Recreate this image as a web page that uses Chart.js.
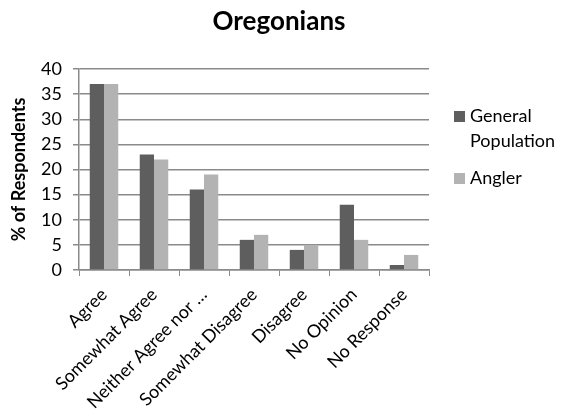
<!DOCTYPE html>
<html>
<head>
<meta charset="utf-8">
<script src="https://cdn.jsdelivr.net/npm/chart.js@4/dist/chart.umd.min.js"></script>
<style>
  html, body { margin: 0; padding: 0; background: #fff; }
  #wrap { position: relative; width: 565px; height: 418px; }
</style>
</head>
<body>
<div id="wrap"><canvas id="c"></canvas></div>
<script>
// ── Data ──────────────────────────────────────────────────────────────────────
const categories = ['Agree', 'Somewhat Agree', 'Neither Agree nor …', 'Somewhat Disagree', 'Disagree', 'No Opinion', 'No Response'];
const generalPop = [37, 23, 16, 6, 4, 13, 1];
const angler     = [37, 22, 19, 7, 5, 6, 3];
const yTicks     = [0, 5, 10, 15, 20, 25, 30, 35, 40];
const titleText  = 'Oregonians';

const FONT = 'Lato, "Open Sans", sans-serif';
const DARK = '#5e5e5e';
const LIGHT = '#b3b3b3';
const GRID = '#8a8a8a';

// ── Title over the whole canvas + legend at the right (wrapped label) ─────────
const sideDecor = {
    id: 'sideDecor',
    afterDraw(chart) {
        const ctx = chart.ctx;
        ctx.save();
        ctx.fillStyle = '#000';
        ctx.textAlign = 'center';
        ctx.textBaseline = 'alphabetic';
        ctx.font = 'bold 26px ' + FONT;
        ctx.fillText(titleText, 279, 30);

        const items = [
            { lines: ['General', 'Population'], color: DARK },
            { lines: ['Angler'], color: LIGHT },
        ];
        ctx.textAlign = 'left';
        ctx.textBaseline = 'middle';
        ctx.font = '18px ' + FONT;
        let y = 116;
        items.forEach(it => {
            ctx.fillStyle = it.color;
            ctx.fillRect(454, y - 5, 11, 11);
            ctx.fillStyle = '#000';
            it.lines.forEach((ln, i) => ctx.fillText(ln, 470, y + i * 25));
            y += it.lines.length * 25 + 12;
        });
        ctx.restore();
    },
};

new Chart(document.getElementById('c'), {
    type: 'bar',
    data: {
        labels: categories,
        datasets: [
            { label: 'General Population', data: generalPop, backgroundColor: DARK, borderWidth: 0 },
            { label: 'Angler',             data: angler,     backgroundColor: LIGHT, borderWidth: 0 },
        ],
    },
    options: {
        responsive: true, maintainAspectRatio: false, animation: false,
        datasets: { bar: { categoryPercentage: 0.57, barPercentage: 1 } },
        layout: { padding: { left: 6, right: 136, top: 69, bottom: 0 } },
        plugins: {
            legend: { display: false },
            tooltip: { enabled: false },
            title: { display: false },
        },
        scales: {
            x: {
                grid: { offset: true, drawOnChartArea: false, color: GRID, tickLength: 6 },
                border: { color: GRID, width: 1.5 },
                ticks: { color: '#000', font: { family: FONT, size: 18 }, maxRotation: 45, minRotation: 45, autoSkip: false, padding: 8 },
                afterFit: s => { s.height = 148; },
            },
            y: {
                min: 0, max: 40,
                afterBuildTicks: s => { s.ticks = yTicks.map(v => ({ value: v })); },
                grid: { color: GRID, lineWidth: 1.5, tickLength: 6 },
                border: { color: GRID, width: 1.5 },
                ticks: { color: '#000', font: { family: FONT, size: 18 }, padding: 11 },
                title: { display: true, text: '% of Respondents', color: '#000', font: { family: FONT, size: 18, weight: 'bold' }, padding: 2 },
                afterFit: s => { s.width = 73; },
            },
        },
    },
    plugins: [sideDecor],
});
</script>
</body>
</html>
